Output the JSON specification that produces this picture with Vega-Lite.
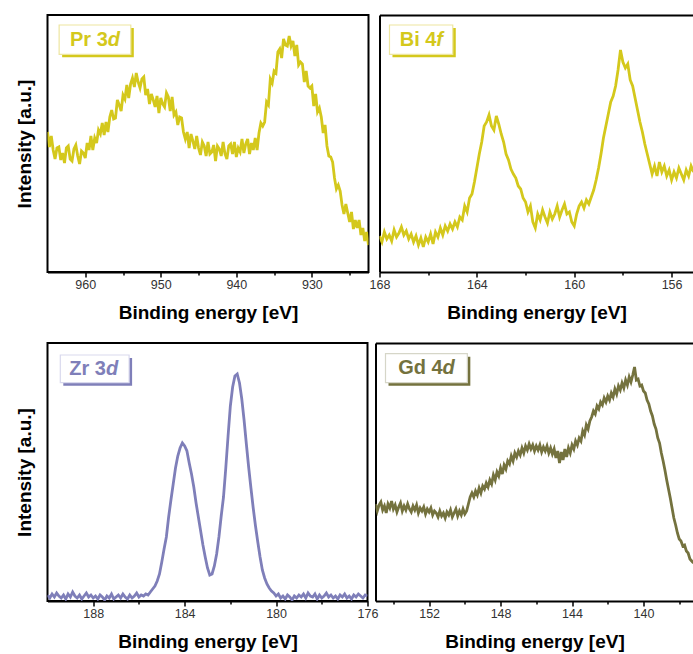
{
"$schema": "https://vega.github.io/schema/vega-lite/v6.json",
"padding": {"left": 14.5, "top": 14, "right": 0, "bottom": 0},
"config": {
  "font": "Liberation Sans",
  "view": {"stroke": "black", "strokeWidth": 2},
  "axis": {"grid": false, "labelFont": "Liberation Sans", "labelFontSize": 12.5, "labelColor": "#333333", "labelPadding": 1, "labelFlush": false, "labelOverlap": false, "tickColor": "black", "tickWidth": 1.5, "domainColor": "black", "domainWidth": 2, "titleFont": "Liberation Sans", "titleFontSize": 19, "titleFontWeight": "bold", "titleColor": "black", "titlePadding": 13}
},
"datasets": {
"pr": [{"e":965,"i":140},{"e":964.75,"i":125},{"e":964.5,"i":136},{"e":964.25,"i":122},{"e":964,"i":113},{"e":963.75,"i":124},{"e":963.5,"i":125},{"e":963.25,"i":112},{"e":963,"i":119},{"e":962.75,"i":109},{"e":962.5,"i":124},{"e":962.25,"i":126},{"e":962,"i":113},{"e":961.75,"i":111},{"e":961.5,"i":123},{"e":961.25,"i":127},{"e":961,"i":116},{"e":960.75,"i":108},{"e":960.5,"i":121},{"e":960.25,"i":119},{"e":960,"i":114},{"e":959.75,"i":129},{"e":959.5,"i":122},{"e":959.25,"i":136},{"e":959,"i":122},{"e":958.75,"i":134},{"e":958.5,"i":129},{"e":958.25,"i":142},{"e":958,"i":138},{"e":957.75,"i":149},{"e":957.5,"i":137},{"e":957.25,"i":150},{"e":957,"i":140},{"e":956.75,"i":155},{"e":956.5,"i":162},{"e":956.25,"i":153},{"e":956,"i":154},{"e":955.75,"i":172},{"e":955.5,"i":167},{"e":955.25,"i":161},{"e":955,"i":177},{"e":954.75,"i":173},{"e":954.5,"i":187},{"e":954.25,"i":174},{"e":954,"i":188},{"e":953.75,"i":194},{"e":953.5,"i":185},{"e":953.25,"i":199},{"e":953,"i":190},{"e":952.75,"i":184},{"e":952.5,"i":193},{"e":952.25,"i":195},{"e":952,"i":177},{"e":951.75,"i":183},{"e":951.5,"i":168},{"e":951.25,"i":178},{"e":951,"i":172},{"e":950.75,"i":165},{"e":950.5,"i":176},{"e":950.25,"i":159},{"e":950,"i":174},{"e":949.75,"i":168},{"e":949.5,"i":165},{"e":949.25,"i":179},{"e":949,"i":175},{"e":948.75,"i":161},{"e":948.5,"i":175},{"e":948.25,"i":157},{"e":948,"i":160},{"e":947.75,"i":147},{"e":947.5,"i":155},{"e":947.25,"i":154},{"e":947,"i":140},{"e":946.75,"i":133},{"e":946.5,"i":140},{"e":946.25,"i":124},{"e":946,"i":138},{"e":945.75,"i":131},{"e":945.5,"i":123},{"e":945.25,"i":136},{"e":945,"i":124},{"e":944.75,"i":117},{"e":944.5,"i":130},{"e":944.25,"i":126},{"e":944,"i":116},{"e":943.75,"i":130},{"e":943.5,"i":118},{"e":943.25,"i":120},{"e":943,"i":127},{"e":942.75,"i":111},{"e":942.5,"i":126},{"e":942.25,"i":123},{"e":942,"i":116},{"e":941.75,"i":130},{"e":941.5,"i":118},{"e":941.25,"i":113},{"e":941,"i":126},{"e":940.75,"i":128},{"e":940.5,"i":118},{"e":940.25,"i":130},{"e":940,"i":115},{"e":939.75,"i":124},{"e":939.5,"i":120},{"e":939.25,"i":133},{"e":939,"i":119},{"e":938.75,"i":128},{"e":938.5,"i":133},{"e":938.25,"i":118},{"e":938,"i":129},{"e":937.75,"i":122},{"e":937.5,"i":134},{"e":937.25,"i":122},{"e":937,"i":139},{"e":936.75,"i":149},{"e":936.5,"i":146},{"e":936.25,"i":150},{"e":936,"i":170},{"e":935.75,"i":167},{"e":935.5,"i":193},{"e":935.25,"i":189},{"e":935,"i":201},{"e":934.75,"i":199},{"e":934.5,"i":220},{"e":934.25,"i":223},{"e":934,"i":214},{"e":933.75,"i":233},{"e":933.5,"i":227},{"e":933.25,"i":226},{"e":933,"i":236},{"e":932.75,"i":226},{"e":932.5,"i":231},{"e":932.25,"i":216},{"e":932,"i":227},{"e":931.75,"i":207},{"e":931.5,"i":210},{"e":931.25,"i":208},{"e":931,"i":190},{"e":930.75,"i":201},{"e":930.5,"i":186},{"e":930.25,"i":184},{"e":930,"i":186},{"e":929.75,"i":166},{"e":929.5,"i":178},{"e":929.25,"i":160},{"e":929,"i":164},{"e":928.75,"i":155},{"e":928.5,"i":139},{"e":928.25,"i":147},{"e":928,"i":126},{"e":927.75,"i":116},{"e":927.5,"i":115},{"e":927.25,"i":110},{"e":927,"i":94},{"e":926.75,"i":83},{"e":926.5,"i":87},{"e":926.25,"i":81},{"e":926,"i":67},{"e":925.75,"i":58},{"e":925.5,"i":68},{"e":925.25,"i":59},{"e":925,"i":50},{"e":924.75,"i":60},{"e":924.5,"i":43},{"e":924.25,"i":52},{"e":924,"i":44},{"e":923.75,"i":52},{"e":923.5,"i":37},{"e":923.25,"i":44},{"e":923,"i":31},{"e":922.75,"i":40},{"e":922.5,"i":27}],
"bi": [{"e":168,"i":36},{"e":167.9,"i":30},{"e":167.8,"i":40},{"e":167.7,"i":33},{"e":167.6,"i":37},{"e":167.5,"i":31},{"e":167.4,"i":42},{"e":167.3,"i":35},{"e":167.2,"i":39},{"e":167.1,"i":45},{"e":167,"i":37},{"e":166.9,"i":41},{"e":166.8,"i":33},{"e":166.7,"i":38},{"e":166.6,"i":30},{"e":166.5,"i":36},{"e":166.4,"i":27},{"e":166.3,"i":34},{"e":166.2,"i":25},{"e":166.1,"i":35},{"e":166,"i":30},{"e":165.9,"i":38},{"e":165.8,"i":28},{"e":165.7,"i":40},{"e":165.6,"i":35},{"e":165.5,"i":44},{"e":165.4,"i":37},{"e":165.3,"i":46},{"e":165.2,"i":41},{"e":165.1,"i":48},{"e":165,"i":43},{"e":164.9,"i":50},{"e":164.8,"i":45},{"e":164.7,"i":55},{"e":164.6,"i":52},{"e":164.5,"i":66},{"e":164.4,"i":60},{"e":164.3,"i":74},{"e":164.2,"i":78},{"e":164.1,"i":90},{"e":164,"i":104},{"e":163.9,"i":118},{"e":163.8,"i":130},{"e":163.7,"i":146},{"e":163.6,"i":150},{"e":163.5,"i":157},{"e":163.4,"i":146},{"e":163.3,"i":142},{"e":163.2,"i":156},{"e":163.1,"i":148},{"e":163,"i":138},{"e":162.9,"i":130},{"e":162.8,"i":118},{"e":162.7,"i":112},{"e":162.6,"i":103},{"e":162.5,"i":98},{"e":162.4,"i":94},{"e":162.3,"i":86},{"e":162.2,"i":83},{"e":162.1,"i":74},{"e":162,"i":70},{"e":161.9,"i":60},{"e":161.8,"i":66},{"e":161.7,"i":50},{"e":161.6,"i":44},{"e":161.5,"i":58},{"e":161.4,"i":52},{"e":161.3,"i":62},{"e":161.2,"i":55},{"e":161.1,"i":49},{"e":161,"i":60},{"e":160.9,"i":53},{"e":160.8,"i":58},{"e":160.7,"i":66},{"e":160.6,"i":55},{"e":160.5,"i":62},{"e":160.4,"i":68},{"e":160.3,"i":58},{"e":160.2,"i":60},{"e":160.1,"i":50},{"e":160,"i":46},{"e":159.9,"i":58},{"e":159.8,"i":66},{"e":159.7,"i":70},{"e":159.6,"i":64},{"e":159.5,"i":72},{"e":159.4,"i":68},{"e":159.3,"i":75},{"e":159.2,"i":82},{"e":159.1,"i":92},{"e":159,"i":104},{"e":158.9,"i":118},{"e":158.8,"i":134},{"e":158.7,"i":146},{"e":158.6,"i":158},{"e":158.5,"i":170},{"e":158.4,"i":176},{"e":158.3,"i":186},{"e":158.2,"i":202},{"e":158.1,"i":222},{"e":158,"i":210},{"e":157.9,"i":204},{"e":157.8,"i":208},{"e":157.7,"i":192},{"e":157.6,"i":186},{"e":157.5,"i":174},{"e":157.4,"i":162},{"e":157.3,"i":150},{"e":157.2,"i":140},{"e":157.1,"i":128},{"e":157,"i":118},{"e":156.9,"i":108},{"e":156.8,"i":98},{"e":156.7,"i":106},{"e":156.6,"i":96},{"e":156.5,"i":110},{"e":156.4,"i":100},{"e":156.3,"i":106},{"e":156.2,"i":96},{"e":156.1,"i":102},{"e":156,"i":92},{"e":155.9,"i":100},{"e":155.8,"i":94},{"e":155.7,"i":104},{"e":155.6,"i":98},{"e":155.5,"i":92},{"e":155.4,"i":102},{"e":155.3,"i":96},{"e":155.2,"i":106},{"e":155.1,"i":100}],
"zr": [{"e":190,"i":6},{"e":189.9,"i":3},{"e":189.8,"i":7},{"e":189.7,"i":4},{"e":189.6,"i":8},{"e":189.5,"i":5},{"e":189.4,"i":3},{"e":189.3,"i":6},{"e":189.2,"i":2},{"e":189.1,"i":7},{"e":189,"i":4},{"e":188.9,"i":9},{"e":188.8,"i":5},{"e":188.7,"i":3},{"e":188.6,"i":6},{"e":188.5,"i":2},{"e":188.4,"i":5},{"e":188.3,"i":8},{"e":188.2,"i":4},{"e":188.1,"i":6},{"e":188,"i":3},{"e":187.9,"i":5},{"e":187.8,"i":2},{"e":187.7,"i":6},{"e":187.6,"i":4},{"e":187.5,"i":1},{"e":187.4,"i":5},{"e":187.3,"i":3},{"e":187.2,"i":7},{"e":187.1,"i":2},{"e":187,"i":4},{"e":186.9,"i":6},{"e":186.8,"i":3},{"e":186.7,"i":7},{"e":186.6,"i":4},{"e":186.5,"i":2},{"e":186.4,"i":6},{"e":186.3,"i":3},{"e":186.2,"i":5},{"e":186.1,"i":8},{"e":186,"i":4},{"e":185.9,"i":6},{"e":185.8,"i":5},{"e":185.7,"i":7},{"e":185.6,"i":6},{"e":185.5,"i":9},{"e":185.4,"i":12},{"e":185.3,"i":15},{"e":185.2,"i":20},{"e":185.1,"i":27},{"e":185,"i":39},{"e":184.9,"i":52},{"e":184.8,"i":64},{"e":184.7,"i":84},{"e":184.6,"i":101},{"e":184.5,"i":117},{"e":184.4,"i":133},{"e":184.3,"i":145},{"e":184.2,"i":153},{"e":184.1,"i":158},{"e":184,"i":155},{"e":183.9,"i":150},{"e":183.8,"i":138},{"e":183.7,"i":127},{"e":183.6,"i":114},{"e":183.5,"i":98},{"e":183.4,"i":84},{"e":183.3,"i":70},{"e":183.2,"i":56},{"e":183.1,"i":44},{"e":183,"i":33},{"e":182.9,"i":26},{"e":182.8,"i":27},{"e":182.7,"i":35},{"e":182.6,"i":47},{"e":182.5,"i":64},{"e":182.4,"i":85},{"e":182.3,"i":104},{"e":182.2,"i":133},{"e":182.1,"i":165},{"e":182,"i":195},{"e":181.9,"i":214},{"e":181.8,"i":225},{"e":181.7,"i":227},{"e":181.6,"i":218},{"e":181.5,"i":202},{"e":181.4,"i":181},{"e":181.3,"i":157},{"e":181.2,"i":134},{"e":181.1,"i":113},{"e":181,"i":93},{"e":180.9,"i":75},{"e":180.8,"i":59},{"e":180.7,"i":44},{"e":180.6,"i":31},{"e":180.5,"i":23},{"e":180.4,"i":17},{"e":180.3,"i":13},{"e":180.2,"i":10},{"e":180.1,"i":8},{"e":180,"i":5},{"e":179.9,"i":7},{"e":179.8,"i":3},{"e":179.7,"i":5},{"e":179.6,"i":2},{"e":179.5,"i":6},{"e":179.4,"i":4},{"e":179.3,"i":1},{"e":179.2,"i":5},{"e":179.1,"i":3},{"e":179,"i":6},{"e":178.9,"i":4},{"e":178.8,"i":7},{"e":178.7,"i":3},{"e":178.6,"i":8},{"e":178.5,"i":5},{"e":178.4,"i":4},{"e":178.3,"i":7},{"e":178.2,"i":2},{"e":178.1,"i":6},{"e":178,"i":3},{"e":177.9,"i":5},{"e":177.8,"i":8},{"e":177.7,"i":4},{"e":177.6,"i":6},{"e":177.5,"i":3},{"e":177.4,"i":5},{"e":177.3,"i":2},{"e":177.2,"i":6},{"e":177.1,"i":4},{"e":177,"i":7},{"e":176.9,"i":3},{"e":176.8,"i":5},{"e":176.7,"i":2},{"e":176.6,"i":6},{"e":176.5,"i":4},{"e":176.4,"i":7},{"e":176.3,"i":5},{"e":176.2,"i":3},{"e":176.1,"i":6},{"e":176,"i":5}],
"gd": [{"e":155,"i":97},{"e":154.9,"i":90},{"e":154.8,"i":96},{"e":154.7,"i":99},{"e":154.6,"i":91},{"e":154.5,"i":95},{"e":154.4,"i":88},{"e":154.3,"i":97},{"e":154.2,"i":93},{"e":154.1,"i":100},{"e":154,"i":92},{"e":153.9,"i":96},{"e":153.8,"i":89},{"e":153.7,"i":94},{"e":153.6,"i":98},{"e":153.5,"i":90},{"e":153.4,"i":95},{"e":153.3,"i":91},{"e":153.2,"i":97},{"e":153.1,"i":92},{"e":153,"i":89},{"e":152.9,"i":95},{"e":152.8,"i":91},{"e":152.7,"i":96},{"e":152.6,"i":88},{"e":152.5,"i":93},{"e":152.4,"i":90},{"e":152.3,"i":94},{"e":152.2,"i":87},{"e":152.1,"i":92},{"e":152,"i":89},{"e":151.9,"i":93},{"e":151.8,"i":86},{"e":151.7,"i":90},{"e":151.6,"i":88},{"e":151.5,"i":84},{"e":151.4,"i":90},{"e":151.3,"i":85},{"e":151.2,"i":88},{"e":151.1,"i":83},{"e":151,"i":89},{"e":150.9,"i":86},{"e":150.8,"i":91},{"e":150.7,"i":84},{"e":150.6,"i":88},{"e":150.5,"i":92},{"e":150.4,"i":85},{"e":150.3,"i":90},{"e":150.2,"i":86},{"e":150.1,"i":92},{"e":150,"i":87},{"e":149.9,"i":90},{"e":149.8,"i":97},{"e":149.7,"i":104},{"e":149.6,"i":108},{"e":149.5,"i":104},{"e":149.4,"i":110},{"e":149.3,"i":106},{"e":149.2,"i":113},{"e":149.1,"i":108},{"e":149,"i":115},{"e":148.9,"i":112},{"e":148.8,"i":118},{"e":148.7,"i":114},{"e":148.6,"i":121},{"e":148.5,"i":117},{"e":148.4,"i":126},{"e":148.3,"i":121},{"e":148.2,"i":129},{"e":148.1,"i":125},{"e":148,"i":133},{"e":147.9,"i":127},{"e":147.8,"i":136},{"e":147.7,"i":132},{"e":147.6,"i":140},{"e":147.5,"i":137},{"e":147.4,"i":145},{"e":147.3,"i":140},{"e":147.2,"i":148},{"e":147.1,"i":144},{"e":147,"i":150},{"e":146.9,"i":146},{"e":146.8,"i":153},{"e":146.7,"i":148},{"e":146.6,"i":155},{"e":146.5,"i":151},{"e":146.4,"i":157},{"e":146.3,"i":152},{"e":146.2,"i":156},{"e":146.1,"i":150},{"e":146,"i":155},{"e":145.9,"i":151},{"e":145.8,"i":156},{"e":145.7,"i":149},{"e":145.6,"i":154},{"e":145.5,"i":150},{"e":145.4,"i":155},{"e":145.3,"i":148},{"e":145.2,"i":153},{"e":145.1,"i":147},{"e":145,"i":152},{"e":144.9,"i":143},{"e":144.8,"i":150},{"e":144.7,"i":138},{"e":144.6,"i":149},{"e":144.5,"i":141},{"e":144.4,"i":152},{"e":144.3,"i":144},{"e":144.2,"i":153},{"e":144.1,"i":148},{"e":144,"i":156},{"e":143.9,"i":152},{"e":143.8,"i":160},{"e":143.7,"i":156},{"e":143.6,"i":163},{"e":143.5,"i":160},{"e":143.4,"i":170},{"e":143.3,"i":166},{"e":143.2,"i":176},{"e":143.1,"i":172},{"e":143,"i":180},{"e":142.9,"i":184},{"e":142.8,"i":190},{"e":142.7,"i":187},{"e":142.6,"i":195},{"e":142.5,"i":192},{"e":142.4,"i":199},{"e":142.3,"i":196},{"e":142.2,"i":203},{"e":142.1,"i":199},{"e":142,"i":205},{"e":141.9,"i":201},{"e":141.8,"i":208},{"e":141.7,"i":204},{"e":141.6,"i":212},{"e":141.5,"i":207},{"e":141.4,"i":215},{"e":141.3,"i":211},{"e":141.2,"i":218},{"e":141.1,"i":213},{"e":141,"i":221},{"e":140.9,"i":216},{"e":140.8,"i":224},{"e":140.7,"i":219},{"e":140.6,"i":226},{"e":140.5,"i":234},{"e":140.4,"i":221},{"e":140.3,"i":222},{"e":140.2,"i":215},{"e":140.1,"i":216},{"e":140,"i":210},{"e":139.9,"i":208},{"e":139.8,"i":201},{"e":139.7,"i":197},{"e":139.6,"i":190},{"e":139.5,"i":185},{"e":139.4,"i":177},{"e":139.3,"i":172},{"e":139.2,"i":163},{"e":139.1,"i":158},{"e":139,"i":148},{"e":138.9,"i":140},{"e":138.8,"i":131},{"e":138.7,"i":121},{"e":138.6,"i":112},{"e":138.5,"i":103},{"e":138.4,"i":93},{"e":138.3,"i":83},{"e":138.2,"i":76},{"e":138.1,"i":68},{"e":138,"i":62},{"e":137.9,"i":60},{"e":137.8,"i":55},{"e":137.7,"i":56},{"e":137.6,"i":50},{"e":137.5,"i":48},{"e":137.4,"i":42},{"e":137.3,"i":40},{"e":137.2,"i":38}]
},
"vconcat": [
 {"hconcat": [
  {"width": 321, "height": 257,
   "resolve": {"axis": {"x": "independent", "y": "independent"}},
   "layer": [
    {"data": {"name": "pr"}, "mark": {"type": "line", "color": "#d4c81c", "strokeWidth": 2.8, "clip": true},
     "encoding": {
      "x": {"field": "e", "type": "quantitative", "scale": {"domain": [922.5, 965], "reverse": true, "nice": false, "zero": false},
            "axis": {"title": "Binding energy [eV]", "values": [960, 955, 950, 945, 940, 935, 930, 925], "labelExpr": "datum.value % 10 === 0 ? datum.label : ''", "tickSize": {"condition": {"test": "datum.value % 10 === 0", "value": 5}, "value": 3}}},
      "y": {"field": "i", "type": "quantitative", "scale": {"domain": [0, 257], "nice": false, "zero": false},
            "axis": {"title": "Intensity [a.u.]", "labels": false, "ticks": false, "domain": false, "titlePadding": 13}}}},
    {"data": {"values": [{}]}, "mark": {"type": "rect", "color": "#d4c81c", "xOffset": 3, "x2Offset": 3, "yOffset": 3, "y2Offset": 3},
     "encoding": {"x": {"datum": 963.46, "type": "quantitative", "axis": null}, "x2": {"datum": 953.97}, "y": {"datum": 247, "type": "quantitative", "axis": null}, "y2": {"datum": 217.7}}},
    {"data": {"values": [{}]}, "mark": {"type": "rect", "fill": "white", "stroke": "#ede6a0", "strokeWidth": 1.2},
     "encoding": {"x": {"datum": 963.46, "type": "quantitative", "axis": null}, "x2": {"datum": 953.97}, "y": {"datum": 247, "type": "quantitative", "axis": null}, "y2": {"datum": 217.7}}},
    {"data": {"values": [{"t": "Pr 3"}]}, "mark": {"type": "text", "align": "left", "baseline": "middle", "fontSize": 20, "fontWeight": "bold", "color": "#d4c81c"},
     "encoding": {"x": {"datum": 962.02, "type": "quantitative", "axis": null}, "y": {"datum": 231.7, "type": "quantitative", "axis": null}, "text": {"field": "t"}}},
    {"data": {"values": [{"t": "d"}]}, "mark": {"type": "text", "align": "left", "baseline": "middle", "fontSize": 20, "fontWeight": "bold", "fontStyle": "italic", "color": "#d4c81c"},
     "encoding": {"x": {"datum": 957.01, "type": "quantitative", "axis": null}, "y": {"datum": 231.7, "type": "quantitative", "axis": null}, "text": {"field": "t"}}}
   ]},
  {"width": 314, "height": 257, "view": {"stroke": null},
   "resolve": {"axis": {"x": "independent", "y": "independent"}},
   "layer": [
    {"data": {"name": "bi"}, "mark": {"type": "line", "color": "#d4c81c", "strokeWidth": 2.8, "clip": true},
     "encoding": {
      "x": {"field": "e", "type": "quantitative", "scale": {"domain": [155.1, 168], "reverse": true, "nice": false, "zero": false},
            "axis": {"title": "Binding energy [eV]", "values": [168, 166, 164, 162, 160, 158, 156], "labelExpr": "datum.value % 4 === 0 ? datum.label : ''", "tickSize": {"condition": {"test": "datum.value % 4 === 0", "value": 5}, "value": 3}}},
      "y": {"field": "i", "type": "quantitative", "scale": {"domain": [0, 257], "nice": false, "zero": false},
            "axis": {"title": null, "labels": false, "ticks": false, "domain": true}}}},
    {"data": {"values": [{}]}, "mark": {"type": "rule", "opacity": 0},
     "encoding": {"x": {"datum": 160, "type": "quantitative", "axis": {"orient": "top", "labels": false, "ticks": false, "title": null, "domain": true}}}},
    {"data": {"values": [{}]}, "mark": {"type": "rect", "color": "#d4c81c", "xOffset": 3, "x2Offset": 3, "yOffset": 3, "y2Offset": 3},
     "encoding": {"x": {"datum": 167.59, "type": "quantitative", "axis": null}, "x2": {"datum": 164.99}, "y": {"datum": 247, "type": "quantitative", "axis": null}, "y2": {"datum": 217.7}}},
    {"data": {"values": [{}]}, "mark": {"type": "rect", "fill": "white", "stroke": "#ede6a0", "strokeWidth": 1.2},
     "encoding": {"x": {"datum": 167.59, "type": "quantitative", "axis": null}, "x2": {"datum": 164.99}, "y": {"datum": 247, "type": "quantitative", "axis": null}, "y2": {"datum": 217.7}}},
    {"data": {"values": [{"t": "Bi 4"}]}, "mark": {"type": "text", "align": "left", "baseline": "middle", "fontSize": 20, "fontWeight": "bold", "color": "#d4c81c"},
     "encoding": {"x": {"datum": 167.17, "type": "quantitative", "axis": null}, "y": {"datum": 231.7, "type": "quantitative", "axis": null}, "text": {"field": "t"}}},
    {"data": {"values": [{"t": "f"}]}, "mark": {"type": "text", "align": "left", "baseline": "middle", "fontSize": 20, "fontWeight": "bold", "fontStyle": "italic", "color": "#d4c81c"},
     "encoding": {"x": {"datum": 165.667, "type": "quantitative", "axis": null}, "y": {"datum": 231.7, "type": "quantitative", "axis": null}, "text": {"field": "t"}}}
   ]}
 ], "spacing": 11, "bounds": "flush"},
 {"hconcat": [
  {"width": 320, "height": 258,
   "resolve": {"axis": {"x": "independent", "y": "independent"}},
   "layer": [
    {"data": {"name": "zr"}, "mark": {"type": "line", "color": "#7f7fb9", "strokeWidth": 2.8, "clip": true},
     "encoding": {
      "x": {"field": "e", "type": "quantitative", "scale": {"domain": [176, 190], "reverse": true, "nice": false, "zero": false},
            "axis": {"title": "Binding energy [eV]", "values": [188, 186, 184, 182, 180, 178, 176], "labelExpr": "datum.value % 4 === 0 ? datum.label : ''", "tickSize": {"condition": {"test": "datum.value % 4 === 0", "value": 5}, "value": 3}}},
      "y": {"field": "i", "type": "quantitative", "scale": {"domain": [0, 258], "nice": false, "zero": false},
            "axis": {"title": "Intensity [a.u.]", "labels": false, "ticks": false, "domain": false, "titlePadding": 13}}}},
    {"data": {"values": [{}]}, "mark": {"type": "rect", "color": "#7f7fb9", "xOffset": 3, "x2Offset": 3, "yOffset": 3, "y2Offset": 3},
     "encoding": {"x": {"datum": 189.44, "type": "quantitative", "axis": null}, "x2": {"datum": 186.43}, "y": {"datum": 246, "type": "quantitative", "axis": null}, "y2": {"datum": 218.3}}},
    {"data": {"values": [{}]}, "mark": {"type": "rect", "fill": "white", "stroke": "#d9d9ee", "strokeWidth": 1.2},
     "encoding": {"x": {"datum": 189.44, "type": "quantitative", "axis": null}, "x2": {"datum": 186.43}, "y": {"datum": 246, "type": "quantitative", "axis": null}, "y2": {"datum": 218.3}}},
    {"data": {"values": [{"t": "Zr 3"}]}, "mark": {"type": "text", "align": "left", "baseline": "middle", "fontSize": 20, "fontWeight": "bold", "color": "#7f7fb9"},
     "encoding": {"x": {"datum": 189.05, "type": "quantitative", "axis": null}, "y": {"datum": 232.5, "type": "quantitative", "axis": null}, "text": {"field": "t"}}},
    {"data": {"values": [{"t": "d"}]}, "mark": {"type": "text", "align": "left", "baseline": "middle", "fontSize": 20, "fontWeight": "bold", "fontStyle": "italic", "color": "#7f7fb9"},
     "encoding": {"x": {"datum": 187.445, "type": "quantitative", "axis": null}, "y": {"datum": 232.5, "type": "quantitative", "axis": null}, "text": {"field": "t"}}}
   ]},
  {"width": 318, "height": 258, "view": {"stroke": null},
   "resolve": {"axis": {"x": "independent", "y": "independent"}},
   "layer": [
    {"data": {"name": "gd"}, "mark": {"type": "line", "color": "#74723e", "strokeWidth": 2.8, "clip": true},
     "encoding": {
      "x": {"field": "e", "type": "quantitative", "scale": {"domain": [137.2, 155], "reverse": true, "nice": false, "zero": false},
            "axis": {"title": "Binding energy [eV]", "values": [154, 152, 150, 148, 146, 144, 142, 140, 138], "labelExpr": "datum.value % 4 === 0 ? datum.label : ''", "tickSize": {"condition": {"test": "datum.value % 4 === 0", "value": 5}, "value": 3}}},
      "y": {"field": "i", "type": "quantitative", "scale": {"domain": [0, 258], "nice": false, "zero": false},
            "axis": {"title": null, "labels": false, "ticks": false, "domain": true}}}},
    {"data": {"values": [{}]}, "mark": {"type": "rule", "opacity": 0},
     "encoding": {"x": {"datum": 145, "type": "quantitative", "axis": {"orient": "top", "labels": false, "ticks": false, "title": null, "domain": true}}}},
    {"data": {"values": [{}]}, "mark": {"type": "rect", "color": "#74723e", "xOffset": 3, "x2Offset": 3, "yOffset": 3, "y2Offset": 3},
     "encoding": {"x": {"datum": 154.44, "type": "quantitative", "axis": null}, "x2": {"datum": 149.86}, "y": {"datum": 247.3, "type": "quantitative", "axis": null}, "y2": {"datum": 218.3}}},
    {"data": {"values": [{}]}, "mark": {"type": "rect", "fill": "white", "stroke": "#d6d6c8", "strokeWidth": 1.2},
     "encoding": {"x": {"datum": 154.44, "type": "quantitative", "axis": null}, "x2": {"datum": 149.86}, "y": {"datum": 247.3, "type": "quantitative", "axis": null}, "y2": {"datum": 218.3}}},
    {"data": {"values": [{"t": "Gd 4"}]}, "mark": {"type": "text", "align": "left", "baseline": "middle", "fontSize": 20, "fontWeight": "bold", "color": "#74723e"},
     "encoding": {"x": {"datum": 153.73, "type": "quantitative", "axis": null}, "y": {"datum": 232.8, "type": "quantitative", "axis": null}, "text": {"field": "t"}}},
    {"data": {"values": [{"t": "d"}]}, "mark": {"type": "text", "align": "left", "baseline": "middle", "fontSize": 20, "fontWeight": "bold", "fontStyle": "italic", "color": "#74723e"},
     "encoding": {"x": {"datum": 151.246, "type": "quantitative", "axis": null}, "y": {"datum": 232.8, "type": "quantitative", "axis": null}, "text": {"field": "t"}}}
   ]}
 ], "spacing": 8, "bounds": "flush"}
],
"spacing": 18
}
